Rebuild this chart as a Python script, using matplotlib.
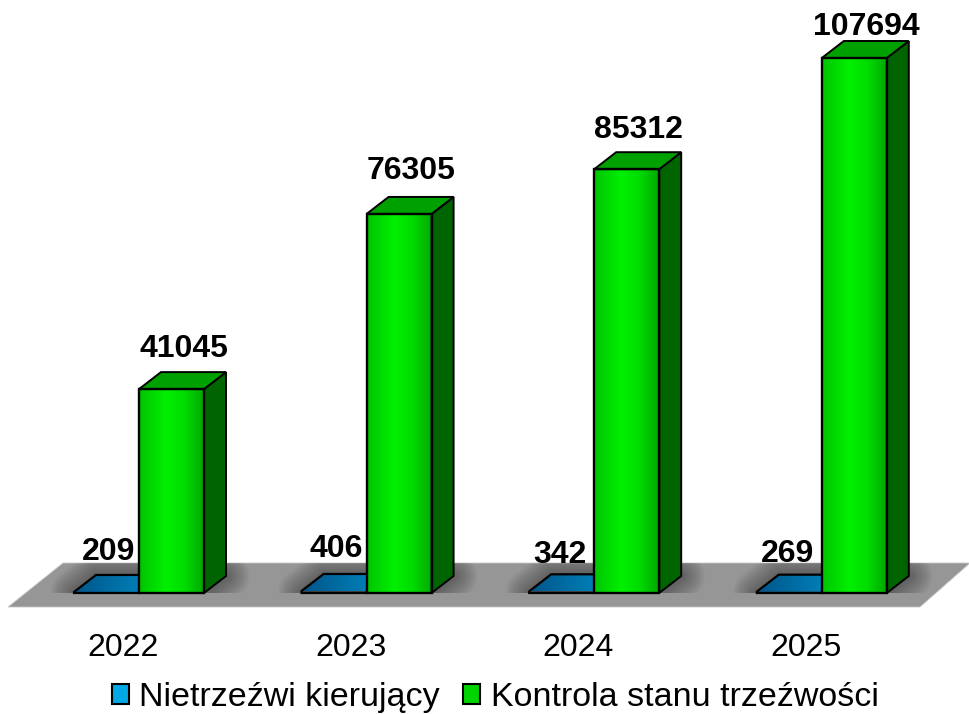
import matplotlib
matplotlib.use('Agg')
import matplotlib.pyplot as plt
import numpy as np
from matplotlib.colors import LinearSegmentedColormap
from matplotlib.patches import Polygon, Patch

plt.rcParams['font.family'] = ['Liberation Sans', 'DejaVu Sans']

years = ['2022', '2023', '2024', '2025']
drivers = [209, 406, 342, 269]
checks = [41045, 76305, 85312, 107694]
legend_names = ['Nietrzeźwi kierujący', 'Kontrola stanu trzeźwości']

# label placement, in pixels from the bar top (the source chart is not regular)
driver_lift = [40, 42, 36, 38]
driver_shift = [2.5, 2.5, -1.5, -1.5]
check_lift = [40, 43, 39, 31]

W, H = 970, 714
base = 593          # pixel row of the zero line
step = 227.6        # pixels between categories
ppu = 535 / 107694  # pixels per unit

fig = plt.figure(figsize=(W / 100, H / 100), dpi=100)
ax = fig.add_axes([0, (H - base) / H, 1, base / H])
xlim = (-139 / step, (W - 139) / step)
ylim = (0, base / ppu)

# sizes in data units
bw = 65 / step
dx = 22 / step
dy = 17 / ppu
px = 1 / step
py = 1 / ppu

green_map = LinearSegmentedColormap.from_list('g', [(0, '#00c400'), (0.42, '#00f000'), (0.7, '#00dc00'), (1, '#00a800')])
blue_map = LinearSegmentedColormap.from_list('b', [(0, '#00558a'), (1, '#008cc4')])
grad = np.linspace(0, 1, 256).reshape(1, -1)

# floor
floor = Polygon([(-131 * px, -14 * py), (781 * px, -14 * py), (831 * px, 30 * py), (-76 * px, 30 * py)],
                closed=True, fc='#969696', ec='#c8c8c8', lw=0.6, clip_on=False, zorder=1)
ax.add_patch(floor)

for i in range(len(years)):
    # soft shadow under each group
    foot = [(i - bw, 0), (i + bw, 0), (i + bw + dx, dy), (i + dx - bw, dy)]
    for lw in np.arange(34, 1, -2):
        s = Polygon(foot, closed=True, fc='#303030', ec='#303030', lw=lw, alpha=0.035,
                    joinstyle='round', zorder=2)
        ax.add_patch(s)
        s.set_clip_path(floor)

    # blue bar, almost flat, so mostly its top face shows
    v = drivers[i]
    top = Polygon([(i - bw, v), (i, v), (i + dx, v + dy), (i - bw + dx, v + dy)], closed=True, fc='none', ec='none')
    ax.add_patch(top)
    im = ax.imshow(grad, cmap=blue_map, extent=(i - bw, i + dx, v, v + dy), aspect='auto', zorder=3)
    im.set_clip_path(top)
    ax.add_patch(Polygon([(i - bw, 0), (i, 0), (i, v + 0), (i + dx, v + dy), (i - bw + dx, v + dy), (i - bw, v)],
                         closed=True, fc='none', ec='black', lw=1.6, clip_on=False, zorder=4))
    ax.text(i - bw / 2 + driver_shift[i] * px, v + driver_lift[i] * py, str(v), ha='center', va='center',
            fontsize=23, fontweight='bold', color='black', zorder=9)

    # green bar
    v = checks[i]
    ax.imshow(grad, cmap=green_map, extent=(i, i + bw, 0, v), aspect='auto', zorder=5)
    ax.add_patch(Polygon([(i, 0), (i + bw, 0), (i + bw, v), (i, v)], closed=True, fc='none', ec='black', lw=1.7,
                         clip_on=False, zorder=7))
    ax.add_patch(Polygon([(i + bw, 0), (i + bw + dx, dy), (i + bw + dx, v + dy), (i + bw, v)], closed=True,
                         fc='#006400', ec='black', lw=1.4, zorder=6))
    ax.add_patch(Polygon([(i, v), (i + bw, v), (i + bw + dx, v + dy), (i + dx, v + dy)], closed=True,
                         fc='#00a000', ec='black', lw=1.4, zorder=6))
    ax.text(i + bw / 2 + 12 * px, v + check_lift[i] * py, str(v), ha='center', va='center', fontsize=23,
            fontweight='bold', color='black', zorder=9)

ax.set_xlim(xlim)
ax.set_ylim(ylim)
ax.set_xticks(np.arange(len(years)) - 16 * px)
ax.set_xticklabels(years, fontsize=23)
ax.tick_params(axis='x', length=0, pad=29)
ax.set_yticks([])
for sp in ax.spines.values():
    sp.set_visible(False)
ax.patch.set_visible(False)

handles = [Patch(fc='#00a8e6', ec='black', lw=1.5), Patch(fc='#00d400', ec='black', lw=1.5)]
fig.legend(handles, legend_names, loc='center', bbox_to_anchor=(495 / W, (H - 697.5) / H), ncol=2, frameon=False,
           fontsize=24.5, handlelength=0.5, handleheight=0.55, handletextpad=0.3, columnspacing=0.7,
           borderpad=0, borderaxespad=0)

fig.savefig('out.png', dpi=100)
